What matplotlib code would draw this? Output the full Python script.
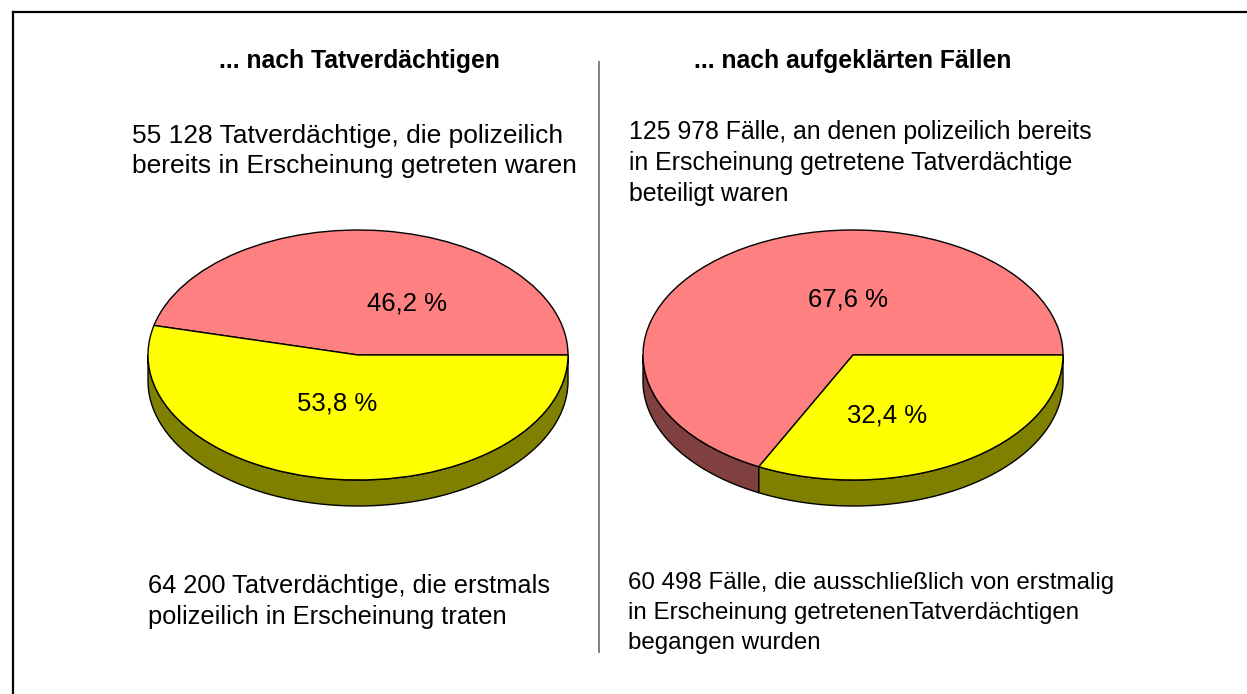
import numpy as np
import matplotlib
matplotlib.use('Agg')
from matplotlib import pyplot as plt
from matplotlib.patches import Polygon

plt.rcParams['font.family'] = ['Liberation Sans', 'DejaVu Sans']

# data
titles = ['... nach Tatverdächtigen', '... nach aufgeklärten Fällen']
shares_left = [46.2, 53.8]    # bereits in Erscheinung getreten, erstmals
shares_right = [67.6, 32.4]
top_texts = ['55 128 Tatverdächtige, die polizeilich\nbereits in Erscheinung getreten waren',
             '125 978 Fälle, an denen polizeilich bereits\nin Erscheinung getretene Tatverdächtige\nbeteiligt waren']
bottom_texts = ['64 200 Tatverdächtige, die erstmals\npolizeilich in Erscheinung traten',
                '60 498 Fälle, die ausschließlich von erstmalig\nin Erscheinung getretenenTatverdächtigen\nbegangen wurden']

top_colors = ['#FF8080', '#FFFF00']
side_colors = ['#804040', '#808000']

W, H = 1247, 694
fig = plt.figure(figsize=(W / 100, H / 100), dpi=100)

bg = fig.add_axes([0, 0, 1, 1])
bg.set_xlim(0, W)
bg.set_ylim(H, 0)
bg.axis('off')

# frame and divider
bg.plot([13, 13], [12, H], color='black', lw=1.6)
bg.plot([13, W], [12, 12], color='black', lw=1.6)
bg.plot([599, 599], [62, 652], color='#808080', lw=1.4)


def pie3d(cx, cy, vals, label_pos, rx=210, ry=125, depth=26):
    dd = depth / ry
    top = cy - 1.05 * ry
    height = (2.15 + dd) * ry
    ax = fig.add_axes([(cx - 1.05 * rx) / W, 1 - (top + height) / H,
                       2.1 * rx / W, height / H])

    wedges, _ = ax.pie(vals, colors=top_colors, startangle=0, counterclock=True,
                       radius=1, wedgeprops=dict(edgecolor='black', linewidth=1))
    for w in wedges:
        w.set_zorder(3)

    # side walls, only the front half is visible
    for w, c in zip(wedges, side_colors):
        a1, a2 = max(w.theta1, 180), min(w.theta2, 360)
        if a2 <= a1:
            continue
        t = np.radians(np.linspace(a1, a2, 100))
        xs = np.cos(t)
        ys = np.sin(t)
        pts = np.concatenate([np.column_stack([xs, ys]),
                              np.column_stack([xs[::-1], ys[::-1] - dd])])
        ax.add_patch(Polygon(pts, closed=True, facecolor=c, edgecolor='black',
                             lw=1, zorder=2))

    for v, (lx, ly) in zip(vals, label_pos):
        ax.text(lx, ly, f'{v:.1f} %'.replace('.', ','), ha='center', va='center',
                fontsize=18.5, zorder=5)

    ax.set_aspect('auto')
    ax.set_xlim(-1.05, 1.05)
    ax.set_ylim(-1.1 - dd, 1.05)
    ax.axis('off')


pie3d(358, 355, shares_left, [(0.233, 0.415), (-0.10, -0.39)])
pie3d(853, 355, shares_right, [(-0.024, 0.44), (0.162, -0.485)])

for x, t in zip([359, 853], titles):
    bg.text(x, 61, t, ha='center', va='center', fontsize=17.8, fontweight='bold')

bg.text(132, 124, top_texts[0], ha='left', va='top', fontsize=19, linespacing=1.3)
bg.text(629, 120, top_texts[1], ha='left', va='top', fontsize=17.9, linespacing=1.36)
bg.text(148, 574, bottom_texts[0], ha='left', va='top', fontsize=18.3, linespacing=1.35)
bg.text(628, 572, bottom_texts[1], ha='left', va='top', fontsize=17.4, linespacing=1.47)

fig.savefig('out.png', dpi=100)
